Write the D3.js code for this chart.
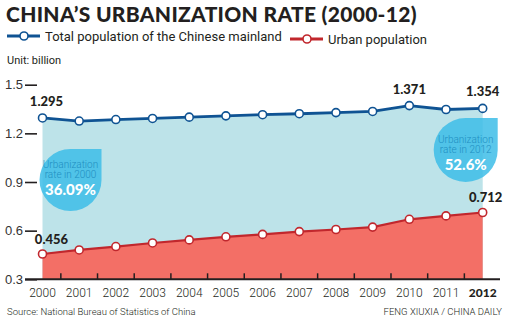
<!DOCTYPE html>
<html>
<head>
<meta charset="utf-8">
<script src="https://cdn.jsdelivr.net/npm/d3@7"></script>
<style>
  body { margin: 0; background: #fff; }
  svg { display: block; font-family: Roboto, "Open Sans", sans-serif; }
  .title { font-family: Lato, sans-serif; font-weight: 900; font-size: 21px; letter-spacing: 0.3px; fill: #231f20; }
  .legend { font-size: 13px; fill: #231f20; }
  .unit { font-size: 11px; fill: #231f20; }
  .yaxis text { font-size: 13px; fill: #333; font-weight: 300; }
  .year { font-size: 12px; fill: #231f20; font-weight: 300; }
  .val { font-family: Lato, sans-serif; font-weight: 900; font-size: 13px; fill: #231f20; }
  .foot { font-size: 9.5px; fill: #231f20; font-weight: 300; }
  .bub1 { font-size: 10px; fill: #1f8fc2; font-weight: 300; }
  .bub2 { font-family: Lato, sans-serif; font-size: 15px; font-weight: 900; fill: #fff; }
</style>
</head>
<body>
<script>
// years on the x axis
var years = ["2000","2001","2002","2003","2004","2005","2006","2007","2008","2009","2010","2011","2012"];

// total population of the mainland, billion
var totalPop = [1.295, 1.276, 1.285, 1.292, 1.300, 1.308, 1.315, 1.321, 1.328, 1.335, 1.371, 1.347, 1.354];

// urban population, billion
var urbanPop = [0.456, 0.481, 0.502, 0.524, 0.543, 0.562, 0.577, 0.594, 0.607, 0.622, 0.670, 0.691, 0.712];

// y axis ticks
var yTicks = [0.3, 0.6, 0.9, 1.2, 1.5];

// urbanization rate callouts
var rateYears = ["2000", "2012"];
var rateValues = ["36.09%", "52.6%"];

window.onload = drawChart();

function drawChart(){

    var width = 507,
        height = 321;

    var svg = d3.select("body")
        .append("svg")
        .attr("width", width)
        .attr("height", height);

    var x = d3.scalePoint()
        .domain(years)
        .range([42.5, 482.7]);

    var y = d3.scaleLinear()
        .domain([0.3, 1.5])
        .range([279.3, 84.7]);

    var totalData = years.map(function(d, i){ return {year: d, v: totalPop[i]}; });
    var urbanData = years.map(function(d, i){ return {year: d, v: urbanPop[i]}; });

    // title and legend
    svg.append("text").attr("class", "title")
        .attr("x", 6).attr("y", 22)
        .text("CHINA\u2019S URBANIZATION RATE (2000-12)");

    var legend = [
        {label: "Total population of the Chinese mainland", color: "#0f5393", x: 7, y: 36},
        {label: "Urban population", color: "#c1272d", x: 290, y: 39}
    ];
    legend.forEach(function(l){
        svg.append("line")
            .attr("x1", l.x).attr("x2", l.x + 33)
            .attr("y1", l.y).attr("y2", l.y)
            .attr("stroke", l.color).attr("stroke-width", 3);
        svg.append("circle")
            .attr("cx", l.x + 17).attr("cy", l.y).attr("r", 4)
            .attr("fill", "#fff").attr("stroke", l.color).attr("stroke-width", 1.6);
        svg.append("text").attr("class", "legend")
            .attr("x", l.x + 38).attr("y", l.y + 4.5)
            .text(l.label);
    });

    svg.append("text").attr("class", "unit")
        .attr("x", 7).attr("y", 64)
        .text("Unit: billion");

    // filled areas
    var area = d3.area()
        .x(function(d){ return x(d.year); })
        .y0(y(0.3))
        .y1(function(d){ return y(d.v); });

    svg.append("path")
        .datum(totalData)
        .attr("fill", "#bde3e9")
        .attr("d", area);

    svg.append("path")
        .datum(urbanData)
        .attr("fill", "#f36f66")
        .attr("d", area);

    // rate callouts, teardrop with square top-right corner
    var bubbles = [
        {cx: x(rateYears[0]) + 28, cy: 180, r: 31, ty: -2},
        {cx: x(rateYears[1]) - 17, cy: 150, r: 32, ty: 3}
    ];
    bubbles.forEach(function(b, i){
        var p = "M" + b.cx + "," + (b.cy - b.r)
            + "L" + (b.cx + b.r) + "," + (b.cy - b.r)
            + "L" + (b.cx + b.r) + "," + b.cy
            + "A" + b.r + "," + b.r + " 0 1 1 " + b.cx + "," + (b.cy - b.r) + "Z";
        svg.append("path")
            .attr("d", p)
            .attr("fill", "#3dbde8")
            .attr("fill-opacity", 0.85);
        var g = svg.append("g")
            .attr("text-anchor", "middle")
            .attr("transform", "translate(" + b.cx + "," + (b.cy + b.ty) + ")");
        g.append("text").attr("class", "bub1")
            .attr("y", -10)
            .text("Urbanization");
        g.append("text").attr("class", "bub1")
            .attr("y", -0.5)
            .text("rate in " + rateYears[i]);
        g.append("text").attr("class", "bub2")
            .attr("y", 17)
            .text(rateValues[i]);
    });

    // y axis
    var yAxis = d3.axisLeft(y)
        .tickValues(yTicks)
        .tickSize(12)
        .tickPadding(2)
        .tickFormat(d3.format(".1f"));

    var yg = svg.append("g")
        .attr("class", "yaxis")
        .attr("transform", "translate(37,0)")
        .call(yAxis);
    yg.select(".domain").remove();
    yg.selectAll("line").attr("stroke", "#231f20").attr("stroke-width", 1.6);

    // x axis baseline with ticks between years
    svg.append("line")
        .attr("x1", 25).attr("x2", 500)
        .attr("y1", y(0.3)).attr("y2", y(0.3))
        .attr("stroke", "#231f20").attr("stroke-width", 2);

    var step = x.step();
    svg.selectAll(".xtick")
        .data(years.slice(1))
        .enter()
        .append("line")
        .attr("class", "xtick")
        .attr("x1", function(d){ return x(d) - step / 2; })
        .attr("x2", function(d){ return x(d) - step / 2; })
        .attr("y1", y(0.3) - 6)
        .attr("y2", y(0.3))
        .attr("stroke", "#231f20").attr("stroke-width", 1.5);

    svg.selectAll(".year")
        .data(years)
        .enter()
        .append("text")
        .attr("class", "year")
        .attr("x", function(d){ return x(d); })
        .attr("y", 297)
        .attr("text-anchor", "middle")
        .style("font-weight", function(d){ return d === "2012" ? 900 : null; })
        .style("font-family", function(d){ return d === "2012" ? "Lato, sans-serif" : null; })
        .text(function(d){ return d; });

    // lines and markers
    var line = d3.line()
        .x(function(d){ return x(d.year); })
        .y(function(d){ return y(d.v); });

    [[totalData, "#0f5393", 2.8], [urbanData, "#c1272d", 2.2]].forEach(function(s){
        svg.append("path")
            .datum(s[0])
            .attr("fill", "none")
            .attr("stroke", s[1])
            .attr("stroke-width", s[2])
            .attr("d", line);
        svg.selectAll(null)
            .data(s[0])
            .enter()
            .append("circle")
            .attr("cx", function(d){ return x(d.year); })
            .attr("cy", function(d){ return y(d.v); })
            .attr("r", 4)
            .attr("fill", "#fff")
            .attr("stroke", s[1])
            .attr("stroke-width", 1.6);
    });

    // value labels
    var labels = [
        {d: totalData[0], dx: 4, dy: -12},
        {d: totalData[10], dx: 0, dy: -12},
        {d: totalData[12], dx: 0, dy: -12},
        {d: urbanData[0], dx: 9, dy: -10},
        {d: urbanData[12], dx: 3, dy: -10}
    ];
    svg.selectAll(".val")
        .data(labels)
        .enter()
        .append("text")
        .attr("class", "val")
        .attr("text-anchor", "middle")
        .attr("x", function(l){ return x(l.d.year) + l.dx; })
        .attr("y", function(l){ return y(l.d.v) + l.dy; })
        .text(function(l){ return d3.format(".3f")(l.d.v); });

    // footer
    svg.append("text").attr("class", "foot")
        .attr("x", 7).attr("y", 315)
        .text("Source: National Bureau of Statistics of China");
    svg.append("text").attr("class", "foot")
        .attr("x", 502).attr("y", 315)
        .attr("text-anchor", "end")
        .text("FENG XIUXIA / CHINA DAILY");
};
</script>
</body>
</html>
